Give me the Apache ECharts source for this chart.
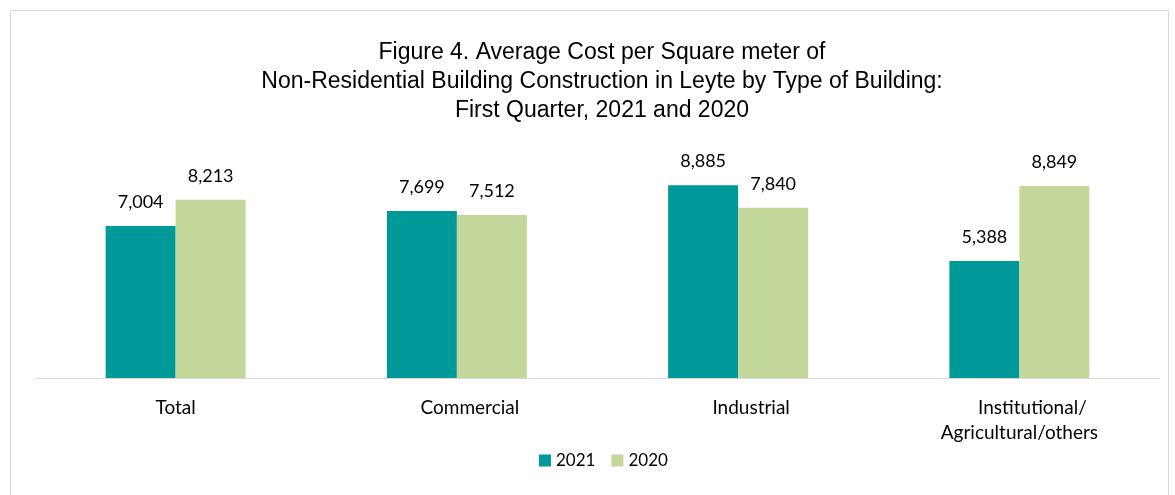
<!DOCTYPE html>
<html>
<head>
<meta charset="utf-8">
<script src="https://cdn.jsdelivr.net/npm/echarts@6/dist/echarts.min.js"></script>
<style>
  html, body { margin: 0; padding: 0; background: #fff; }
  #frame { position: absolute; left: 10px; top: 10px; width: 1157px; height: 500px; border: 1px solid #d9d9d9; }
  #chart { position: absolute; left: 0; top: 0; width: 1175px; height: 495px; }
</style>
</head>
<body>
<div id="frame"></div>
<div id="chart"></div>
<script>
// categories and values
const categories = ['Total', 'Commercial', 'Industrial', 'Institutional/\nAgricultural/others']
const values2021 = [7004, 7699, 8885, 5388]
const values2020 = [8213, 7512, 7840, 8849]

const chart = echarts.init(document.getElementById('chart'))

const labelStyle = {
    show: true,
    position: 'top',
    distance: 15,
    color: '#000',
    fontFamily: 'Lato',
    fontSize: 18,
    formatter: p => p.value.toLocaleString('en-US')
}

const option = {
    animation: false,
    title: {
        text: 'Figure 4. Average Cost per Square meter of\nNon-Residential Building Construction in Leyte by Type of Building:\nFirst Quarter, 2021 and 2020',
        left: 597,
        top: 33,
        textAlign: 'center',
        textStyle: {
            fontFamily: 'Liberation Sans',
            fontWeight: 'normal',
            fontSize: 23,
            lineHeight: 29,
            color: '#000'
        }
    },
    legend: {
        top: 452,
        left: 539,
        padding: 0,
        itemWidth: 12,
        itemHeight: 12,
        itemGap: 16,
        icon: 'rect',
        textStyle: { fontFamily: 'Lato', fontSize: 17, color: '#000' },
        data: ['2021', '2020']
    },
    grid: {
        left: 35,
        right: 15,
        top: 161,
        bottom: 117
    },
    xAxis: {
        type: 'category',
        data: categories,
        axisTick: { show: false },
        axisLine: { lineStyle: { color: '#d9d9d9', width: 1 } },
        axisLabel: {
            color: '#000',
            fontFamily: 'Lato',
            fontSize: 19,
            lineHeight: 25,
            margin: 17,
            interval: 0,
            // the source labels sit a little right of the bar pairs (except the first)
            formatter: (value, idx) => {
                if (idx === 0) return value
                const lines = value.split('\n')
                lines[0] = '{p|' + lines[0] + '}'
                return lines.join('\n')
            },
            rich: {
                p: { padding: [0, 0, 0, 26] }
            }
        }
    },
    yAxis: {
        type: 'value',
        min: 0,
        max: 10000,
        show: false,
        splitLine: { show: false }
    },
    series: [
        {
            name: '2021',
            type: 'bar',
            data: values2021,
            barWidth: 70,
            barGap: '0%',
            itemStyle: { color: '#009999' },
            label: labelStyle
        },
        {
            name: '2020',
            type: 'bar',
            data: values2020,
            barWidth: 70,
            itemStyle: { color: '#c4d79b' },
            label: labelStyle
        }
    ]
}

chart.setOption(option)
</script>
</body>
</html>
